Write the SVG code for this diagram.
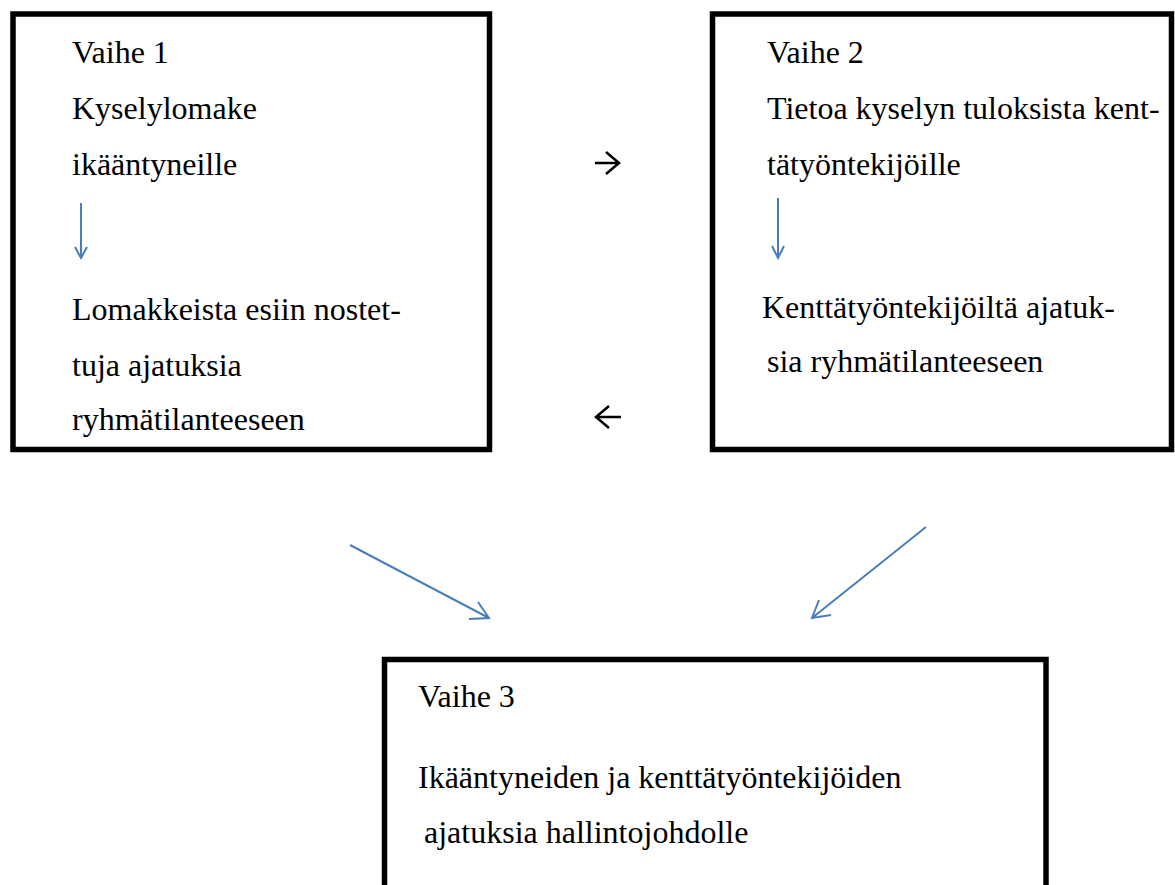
<svg xmlns="http://www.w3.org/2000/svg" width="1175" height="885" viewBox="0 0 1175 885">
<style>
.box{fill:#fff;stroke:#000;stroke-width:5.5}
.t{font-family:"Liberation Serif","Times New Roman",serif;font-size:32px;fill:#000}
.blue{stroke:#4a7ebb;stroke-width:2;fill:none}
.blk{stroke:#000;stroke-width:2.5;fill:none}
</style>
<rect width="1175" height="885" fill="#fff"/>
<g id="node-vaihe1">
<rect class="box" x="13" y="14" width="476.5" height="435.5"/>
<text class="t" x="72" y="63">Vaihe 1</text>
<text class="t" x="72" y="119">Kyselylomake</text>
<text class="t" x="72" y="175">ikääntyneille</text>
<text class="t" x="72" y="320">Lomakkeista esiin nostet-</text>
<text class="t" x="72" y="376">tuja ajatuksia</text>
<text class="t" x="72" y="430">ryhmätilanteeseen</text>
<path class="blue" d="M81 203V258M75 247L81 258L87 247"/>
</g>
<g id="node-vaihe2">
<rect class="box" x="712.5" y="14" width="459" height="435.5"/>
<text class="t" x="767" y="63">Vaihe 2</text>
<text class="t" x="767" y="119">Tietoa kyselyn tuloksista kent-</text>
<text class="t" x="767" y="175">tätyöntekijöille</text>
<text class="t" x="762" y="318">Kenttätyöntekijöiltä ajatuk-</text>
<text class="t" x="767" y="372">sia ryhmätilanteeseen</text>
<path class="blue" d="M778 198V258M772 246L778 258L784 246"/>
</g>
<g id="node-vaihe3">
<rect class="box" x="384.5" y="659.5" width="661.5" height="240"/>
<text class="t" x="418" y="707">Vaihe 3</text>
<text class="t" x="418" y="788">Ikääntyneiden ja kenttätyöntekijöiden</text>
<text class="t" x="424" y="843">ajatuksia hallintojohdolle</text>
</g>
<g id="connectors">
<path class="blk" d="M595 163H619M606 152L619 163L606 174"/>
<path class="blk" d="M621 417H596M609 406L596 417L609 428"/>
<path class="blue" d="M350 545L489 618M478 602L489 618L469 619"/>
<path class="blue" d="M926 527L812 618M819 600L812 618L831 615"/>
</g>
</svg>
